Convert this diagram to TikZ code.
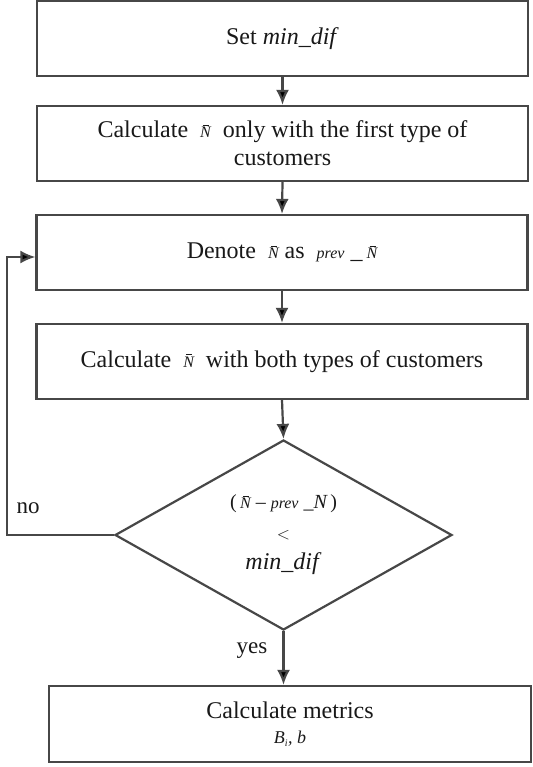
\documentclass[tikz,border=0pt]{standalone}
\usepackage{fontspec}
\setmainfont{Liberation Serif}
\usetikzlibrary{shapes.geometric,arrows.meta}
% small italic N with a bar drawn as a rule, as in an equation editor
\newcommand{\Nbar}{\mbox{\fontsize{16}{16}\selectfont\itshape
  \rlap{\kern3pt\rule[12.5pt]{6pt}{0.6pt}}N}}
\newcommand{\smit}[1]{{\fontsize{16}{16}\selectfont\itshape #1}}
\begin{document}
\begin{tikzpicture}[x=1pt,y=-1pt,
  every node/.style={font=\fontsize{24}{28}\selectfont, text=black!90},
  stepbox/.style={draw=black!72, line width=2.2pt, minimum width=491,
    minimum height=75, align=center, inner sep=0pt},
  testbox/.style={draw=black!72, line width=2.2pt, shape=diamond,
    minimum width=337, minimum height=190, align=center, inner sep=0pt},
  flow/.style={draw=black!72, line width=2.2pt,
    -{Latex[length=15pt,width=13pt,fill=black]}},
  lbl/.style={font=\fontsize{23}{26}\selectfont}]
\useasboundingbox (0,0) rectangle (532,767);
\fill[white] (0,0) rectangle (532,767);

% process steps
\node[stepbox] (setmin) at (282.5,38.5) {Set \textit{min\_dif}};
\node[stepbox] (first) at (282.5,143.5)
  {Calculate \ \Nbar\ \ only with the first type of\\customers};
\node[stepbox] (denote) at (282,252.5)
  {Denote \ \Nbar\ as \ \smit{prev} \_\,\Nbar};
\node[stepbox] (both) at (282,361.5)
  {Calculate \ \Nbar\ \ with both types of customers};
\node[testbox] (test) at (283.5,535)
  {{\fontsize{20}{24}\selectfont(\,\Nbar\ --\ \smit{prev} \_{\itshape N}\,)}\\[3pt]
   {\fontsize{17}{20}\selectfont $<$}\\[2pt]
   \textit{min\_dif}};
\node[stepbox, minimum width=482, minimum height=76] (metrics) at (290,724)
  {Calculate metrics\\[-3pt]{\fontsize{18}{18}\selectfont\itshape B\textsubscript{\fontsize{10}{10}\selectfont i}, b}};

% connectors
\draw[flow] (setmin.south) -- (first.north);
\draw[flow] (first.south) -- (denote.north);
\draw[flow] (denote.south) -- (both.north);
\draw[flow] (both.south) -- (test.north);
\draw[flow] (test.south) -- (test.south |- metrics.north);
\coordinate (loop) at (7,535);
\draw[flow] (test.west) -- (loop) |- ([yshift=-4.5pt]denote.west);

% branch labels
\node[lbl] (no) at (28,508) {no};
\node[lbl] (yes) at (252,651) {yes};
\end{tikzpicture}
\end{document}
